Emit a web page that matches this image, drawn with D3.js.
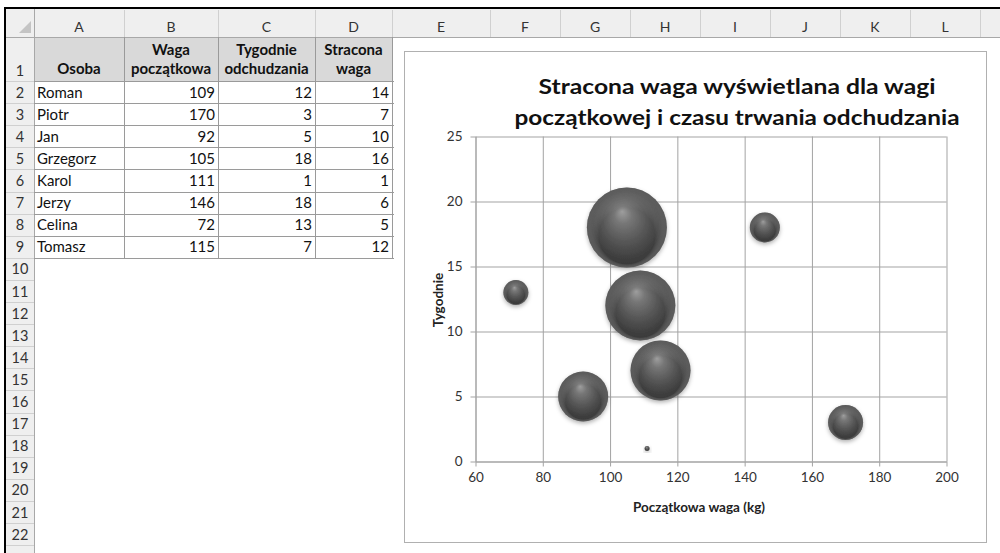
<!DOCTYPE html>
<html><head><meta charset="utf-8">
<script src="https://cdn.jsdelivr.net/npm/d3@7"></script>
<style>html,body{margin:0;padding:0;background:#fff;} svg{display:block;font-family:Lato,"Open Sans",sans-serif;}</style>
</head><body><svg id="c" width="1000" height="553"></svg>
<script>
// ---- data ----
const persons = ["Roman","Piotr","Jan","Grzegorz","Karol","Jerzy","Celina","Tomasz"];
const startWeight = [109,170,92,105,111,146,72,115];
const weeks = [12,3,5,18,1,18,13,7];
const lostWeight = [14,7,10,16,1,6,5,12];
const tableHeaders = [["Osoba"],["Waga","początkowa"],["Tygodnie","odchudzania"],["Stracona","waga"]];
const columnLetters = ["A","B","C","D","E","F","G","H","I","J","K","L"];
const xTicks = [60,80,100,120,140,160,180,200];
const yTicks = [0,5,10,15,20,25];
const chartTitle = ["Stracona waga wyświetlana dla wagi","początkowej i czasu trwania odchudzania"];
const xTitle = "Początkowa waga (kg)";
const yTitle = "Tygodnie";

// ---- sheet layout ----
const svg = d3.select("#c");
const colEdges = [34,124,218,315,392,490,560,630,700,770,840,910,980,1050];
const headTop = 8, headBottom = 37, row1Bottom = 81, rowH = 22.1;
const rowBottom = k => k === 1 ? row1Bottom : row1Bottom + (k-1)*rowH;
const nRows = 22;

svg.append("rect").attr("width",1000).attr("height",553).attr("fill","#fff");
const sheet = svg.append("g");
sheet.append("rect").attr("x",5).attr("y",headTop).attr("width",995).attr("height",headBottom-headTop).attr("fill","#efefef");
sheet.append("rect").attr("x",5).attr("y",headBottom).attr("width",29).attr("height",553-headBottom).attr("fill","#efefef");
sheet.selectAll(".cs").data(colEdges.slice(1)).join("line")
  .attr("x1",d=>d+0.5).attr("x2",d=>d+0.5).attr("y1",headTop+2).attr("y2",headBottom)
  .attr("stroke","#d0d0d0");
sheet.selectAll(".cl").data(columnLetters).join("text")
  .attr("x",(d,i)=>(colEdges[i]+colEdges[i+1])/2).attr("y",32)
  .attr("text-anchor","middle").attr("font-size",14).attr("fill","#333").text(d=>d);
const rows = d3.range(1,nRows+2);
sheet.selectAll(".rs").data(rows).join("line")
  .attr("x1",5).attr("x2",34).attr("y1",d=>Math.round(rowBottom(d))+0.5).attr("y2",d=>Math.round(rowBottom(d))+0.5)
  .attr("stroke","#d0d0d0");
sheet.selectAll(".rn").data(d3.range(1,nRows+1)).join("text")
  .attr("x",20).attr("y",d=>rowBottom(d)-5.5)
  .attr("text-anchor","middle").attr("font-size",14.5).attr("fill","#333").text(d=>d);
sheet.append("line").attr("x1",5).attr("x2",1000).attr("y1",headBottom+0.5).attr("y2",headBottom+0.5).attr("stroke","#a8a8a8");
sheet.append("line").attr("x1",34.5).attr("x2",34.5).attr("y1",headTop).attr("y2",553).attr("stroke","#a8a8a8");
sheet.append("path").attr("d","M31,21 L31,33 L19,33 Z").attr("fill","#c4c4c4");
sheet.append("line").attr("x1",4).attr("x2",1000).attr("y1",8).attr("y2",8).attr("stroke","#000").attr("stroke-width",2);
sheet.append("line").attr("x1",5).attr("x2",5).attr("y1",7).attr("y2",553).attr("stroke","#000").attr("stroke-width",2);

// table
const tbl = sheet.append("g");
tbl.append("rect").attr("x",colEdges[0]+1).attr("y",headBottom+1).attr("width",colEdges[4]-colEdges[0]-1).attr("height",row1Bottom-headBottom-1).attr("fill","#d9d9d9");
const tableRows = 9;
tbl.selectAll(".th").data(d3.range(1,tableRows+1)).join("line")
  .attr("x1",colEdges[0]).attr("x2",colEdges[4]+2)
  .attr("y1",d=>Math.round(rowBottom(d))+0.5).attr("y2",d=>Math.round(rowBottom(d))+0.5)
  .attr("stroke","#9a9a9a");
tbl.selectAll(".tv").data(colEdges.slice(1,5)).join("line")
  .attr("x1",d=>d+0.5).attr("x2",d=>d+0.5)
  .attr("y1",headBottom).attr("y2",Math.round(rowBottom(tableRows))+1)
  .attr("stroke","#9a9a9a");
tableHeaders.forEach((lines,ci)=>{
  const cx = (colEdges[ci]+colEdges[ci+1])/2;
  lines.forEach((t,li)=>{
    tbl.append("text").attr("x",cx).attr("y",row1Bottom-7-(lines.length-1-li)*19)
      .attr("text-anchor","middle").attr("font-size",15).attr("font-weight","bold").attr("fill","#111").text(t);
  });
});
persons.forEach((p,i)=>{
  const k = i+2, base = rowBottom(k)-5.5;
  tbl.append("text").attr("x",colEdges[0]+3).attr("y",base).attr("font-size",15).attr("fill","#111").text(p);
  [startWeight[i],weeks[i],lostWeight[i]].forEach((v,j)=>{
    tbl.append("text").attr("x",colEdges[j+2]-3).attr("y",base).attr("text-anchor","end")
      .attr("font-size",15).attr("fill","#111").text(v);
  });
});

// ---- chart ----
const ch = svg.append("g");
ch.append("rect").attr("x",404.5).attr("y",51.5).attr("width",582).attr("height",491)
  .attr("fill","#fff").attr("stroke","#b0b0b0");

const defs = svg.append("defs");
const grad = defs.append("radialGradient").attr("id","sphere")
  .attr("cx","50%").attr("cy","50%").attr("r","50%").attr("fx","44%").attr("fy","30%");
[[0,"#9e9e9e"],[0.22,"#767676"],[0.55,"#565656"],[0.85,"#3e3e3e"],[1,"#383838"]]
  .forEach(([o,c])=>grad.append("stop").attr("offset",o).attr("stop-color",c));
const rim = defs.append("radialGradient").attr("id","rim")
  .attr("cx","50%").attr("cy","50%").attr("r","50%").attr("fx","50%").attr("fy","85%");
[[0,"#ffffff",0],[0.7,"#ffffff",0],[1,"#9a9a9a",0.35]]
  .forEach(([o,c,a])=>rim.append("stop").attr("offset",o).attr("stop-color",c).attr("stop-opacity",a));
const flt = defs.append("filter").attr("id","shadow").attr("x","-30%").attr("y","-30%").attr("width","160%").attr("height","170%");
flt.append("feDropShadow").attr("dx",0).attr("dy",2).attr("stdDeviation",2).attr("flood-color","#000").attr("flood-opacity",0.3);

const x = d3.scaleLinear().domain([60,200]).range([475.5,946.5]);
const y = d3.scaleLinear().domain([0,25]).range([461.5,136.5]);
const r = d3.scaleLinear().domain([0,d3.max(lostWeight)]).range([0,40]);

const gridCol = "#a3a3a3";
const gx = ch.append("g").attr("transform",`translate(0,${y(0)})`)
  .call(d3.axisBottom(x).tickValues(xTicks).tickSize(-(y(0)-y(25))).tickFormat("").tickSizeOuter(0));
gx.select(".domain").remove();
gx.selectAll("line").attr("stroke",gridCol);
const gy = ch.append("g").attr("transform",`translate(${x(60)},0)`)
  .call(d3.axisLeft(y).tickValues(yTicks).tickSize(-(x(200)-x(60))).tickFormat("").tickSizeOuter(0));
gy.select(".domain").remove();
gy.selectAll("line").attr("stroke",gridCol);

const ax = ch.append("g").attr("transform",`translate(0,${y(0)})`)
  .call(d3.axisBottom(x).tickValues(xTicks).tickSize(5).tickPadding(6).tickSizeOuter(0));
ax.select(".domain").attr("stroke",gridCol);
ax.selectAll("line").attr("stroke",gridCol);
ax.selectAll("text").attr("font-size",13.5).attr("font-family","Lato").attr("fill","#333");
const ay = ch.append("g").attr("transform",`translate(${x(60)},0)`)
  .call(d3.axisLeft(y).tickValues(yTicks).tickSize(5).tickPadding(8).tickSizeOuter(0));
ay.select(".domain").attr("stroke",gridCol);
ay.selectAll("line").attr("stroke",gridCol);
ay.selectAll("text").attr("font-size",13.5).attr("font-family","Lato").attr("fill","#333");

const pts = persons.map((p,i)=>({p, sx:startWeight[i], wk:weeks[i], lw:lostWeight[i]}));
const bg = ch.append("g");
bg.selectAll("circle.b").data(pts).join("circle").attr("class","b")
  .attr("cx",d=>x(d.sx)).attr("cy",d=>y(d.wk)).attr("r",d=>r(d.lw))
  .attr("fill","url(#sphere)").attr("filter","url(#shadow)");
bg.selectAll("circle.rm").data(pts).join("circle").attr("class","rm")
  .attr("cx",d=>x(d.sx)).attr("cy",d=>y(d.wk)).attr("r",d=>r(d.lw))
  .attr("fill","url(#rim)");

const tLens = [397,445];
chartTitle.forEach((t,i)=>{
  ch.append("text").attr("x",737).attr("y",94+i*31).attr("text-anchor","middle")
    .attr("font-size",21).attr("font-weight","bold").attr("fill","#111")
    .attr("textLength",tLens[i]).attr("lengthAdjust","spacingAndGlyphs").text(t);
});
ch.append("text").attr("x",699).attr("y",511.5).attr("text-anchor","middle")
  .attr("font-size",13.5).attr("font-weight","bold").attr("fill","#222").text(xTitle);
ch.append("text").attr("transform","translate(442.5,300) rotate(-90)").attr("text-anchor","middle")
  .attr("font-size",13.5).attr("font-weight","bold").attr("fill","#222").text(yTitle);
</script>
</body></html>
